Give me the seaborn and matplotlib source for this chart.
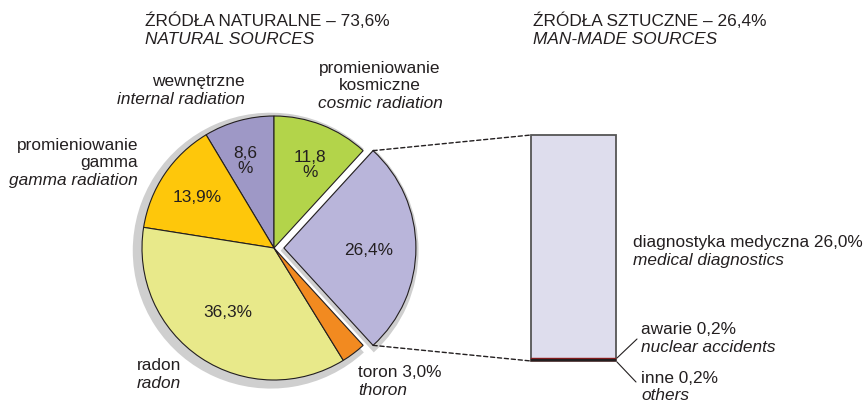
import matplotlib
matplotlib.use('Agg')
import matplotlib.pyplot as plt
import seaborn as sns
import numpy as np
import pandas as pd
from matplotlib.patches import ConnectionPatch

sns.set_style('white')
plt.rcParams['font.family'] = ['Liberation Sans', 'DejaVu Sans']

# ---------------------------------------------------------------
# Data
# ---------------------------------------------------------------
pie_names = ['wewnętrzne', 'promieniowanie gamma', 'radon', 'toron',
             'źródła sztuczne', 'promieniowanie kosmiczne']
pie_values = [8.6, 13.9, 36.3, 3.0, 26.4, 11.8]
pie_colors = ['#9e98c6', '#fec70b', '#e8e98a', '#f28a20', '#b9b5da', '#b3d44a']
pie_explode = [0, 0, 0, 0, 0.075, 0]

natural_total = 73.6
manmade_total = 26.4

bar_names = ['diagnostyka medyczna', 'awarie', 'inne']
bar_values = [26.0, 0.2, 0.2]
bar_colors = ['#dedded', '#9b1c1c', '#231f20']


def pl(v):
    return f'{v:.1f}'.replace('.', ',')


W, H = 864, 402
fig = plt.figure(figsize=(W / 100, H / 100), dpi=100)


def px(x, y):
    return x / W, 1 - y / H


# ---------------------------------------------------------------
# Pie (natural sources + exploded man-made slice)
# ---------------------------------------------------------------
cx, cy, r = 274, 249, 132
lim = 1.2
side = 2 * lim * r
ax = fig.add_axes([(cx - side / 2) / W, (H - cy - side / 2) / H, side / W, side / H])

# angle where the man-made slice ends (counter-clockwise order)
edge = 90 - 360 * pie_values[-1] / 100

# grey shadow behind the pie
ax.pie([natural_total, manmade_total], colors=['#cfcfcf', '#cfcfcf'],
       startangle=edge, explode=[0, 0.075], radius=1.045, center=(-0.025, -0.02),
       wedgeprops=dict(linewidth=0))
ax.pie(pie_values, colors=pie_colors, startangle=90, counterclock=True,
       explode=pie_explode,
       wedgeprops=dict(edgecolor='#231f20', linewidth=0.8))
ax.set_xlim(-lim, lim)
ax.set_ylim(-lim, lim)
ax.set_aspect('equal')
ax.axis('off')

fs = 12.4
inner = [(-0.22, 0.67, pl(8.6) + '\n%'), (-0.58, 0.39, pl(13.9) + '%'),
         (-0.35, -0.48, pl(36.3) + '%'), (0.27, 0.64, pl(11.8) + '\n%'),
         (0.72, -0.01, pl(26.4) + '%')]
for x, y, t in inner:
    ax.text(x, y, t, ha='center', va='center', fontsize=fs, color='#231f20',
            linespacing=1.0)

# ---------------------------------------------------------------
# Stacked bar (man-made sources)
# ---------------------------------------------------------------
bx0, bx1, by0, by1 = 531, 616, 136, 362
bax = fig.add_axes([bx0 / W, (H - by1) / H, (bx1 - bx0) / W, (by1 - by0) / H])
cum = pd.Series(bar_values[::-1]).cumsum()[::-1].values
for i, (val, col) in enumerate(zip(cum, bar_colors)):
    sns.barplot(x=[0], y=[val], color=col, width=1.0, saturation=1,
                edgecolor='#555555' if i == 0 else col,
                linewidth=1.3 if i == 0 else 0.3, ax=bax)
for p in bax.patches:
    p.set_clip_on(False)
bax.set_xlim(-0.5, 0.5)
bax.set_ylim(0, manmade_total)
bax.axis('off')

# dotted connectors
tip = 0.075
a = np.deg2rad(edge)
for sgn, yb in [(1, manmade_total), (-1, 0)]:
    con = ConnectionPatch(xyA=(tip + np.cos(a), sgn * np.sin(a)), coordsA=ax.transData,
                          xyB=(-0.5, yb), coordsB=bax.transData,
                          linestyle=(0, (3, 2)), color='#231f20', linewidth=1.0)
    fig.add_artist(con)

# leader lines for the tiny segments
fig.add_artist(plt.Line2D([617 / W, 637 / W], [1 - 359 / H, 1 - 340 / H],
                          color='#231f20', linewidth=0.8))
fig.add_artist(plt.Line2D([617 / W, 636 / W], [1 - 363 / H, 1 - 383 / H],
                          color='#231f20', linewidth=0.8))

# ---------------------------------------------------------------
# Texts
# ---------------------------------------------------------------
def label(x, y, lines, ha='left', step=18.5):
    for i, (t, it) in enumerate(lines):
        fig.text(*px(x, y + i * step), t, ha=ha, va='baseline', fontsize=fs,
                 style='italic' if it else 'normal', color='#231f20')


label(145, 26, [(f'ŹRÓDŁA NATURALNE – {pl(natural_total)}%', False),
                ('NATURAL SOURCES', True)], step=18)
label(533, 26, [(f'ŹRÓDŁA SZTUCZNE – {pl(manmade_total)}%', False),
                ('MAN-MADE SOURCES', True)], step=18)
label(245, 86, [('wewnętrzne', False), ('internal radiation', True)], ha='right')
label(380, 73, [('promieniowanie', False), ('kosmiczne', False),
                ('cosmic radiation', True)], ha='center', step=17.5)
label(138, 150, [('promieniowanie', False), ('gamma', False),
                 ('gamma radiation', True)], ha='right', step=17.5)
label(137, 370, [('radon', False), ('radon', True)])
label(358, 377, [(f'toron {pl(3.0)}%', False), ('thoron', True)])
label(633, 247, [(f'diagnostyka medyczna {pl(bar_values[0])}%', False),
                 ('medical diagnostics', True)])
label(641, 334, [(f'awarie {pl(bar_values[1])}%', False), ('nuclear accidents', True)])
label(641, 383, [(f'inne {pl(bar_values[2])}%', False), ('others', True)], step=17)

plt.savefig('out.png', dpi=100)
plt.close()
